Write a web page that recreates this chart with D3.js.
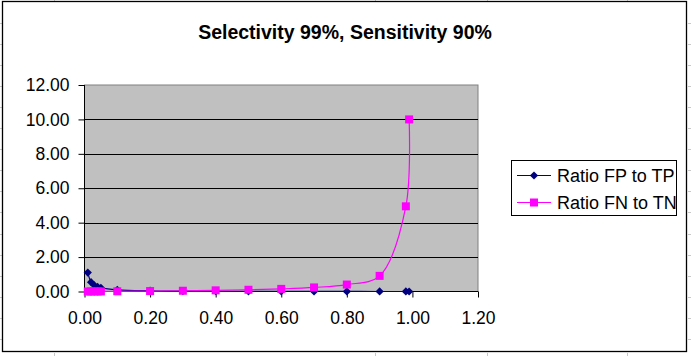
<!DOCTYPE html>
<html><head><meta charset="utf-8">
<script src="https://cdn.jsdelivr.net/npm/d3@7"></script>
<style>body{margin:0;background:#fff}svg{display:block}text{font-family:"Liberation Sans",Arial,sans-serif}</style>
</head><body>
<svg id="c" width="691" height="356"></svg>
<script>
const titleText = "Selectivity 99%, Sensitivity 90%";
const xValues = [0.01,0.02,0.03,0.04,0.05,0.1,0.2,0.3,0.4,0.5,0.6,0.7,0.8,0.9,0.98,0.99];
const fpToTp = [1.1,0.544,0.359,0.267,0.211,0.1,0.044,0.026,0.0167,0.0111,0.0074,0.0048,0.0028,0.0012,0.00025,0.00011];
const fnToTn = [0.001,0.0021,0.0031,0.0042,0.0053,0.0112,0.0253,0.0433,0.0673,0.101,0.152,0.236,0.404,0.909,4.95,10.0];
const seriesNames = ["Ratio FP to TP","Ratio FN to TN"];
const xTicks = [0,0.2,0.4,0.6,0.8,1.0,1.2];
const yTicks = [0,2,4,6,8,10,12];

const svg = d3.select("#c");
const L=84.5, R=478, T=85, B=291.5;
const x = d3.scaleLinear().domain([0,1.2]).range([L,R]);
const y = d3.scaleLinear().domain([0,12]).range([B,T]);

// spreadsheet faint gridline stubs outside chart frame
const g0 = svg.append("g").attr("stroke","#c8c8c8").attr("stroke-width",1);
for(let k=0;k<16;k++){const yy=Math.round(22.5+21.1*k)+0.5; if(yy<350){g0.append("line").attr("x1",0).attr("x2",2).attr("y1",yy).attr("y2",yy);g0.append("line").attr("x1",688).attr("x2",691).attr("y1",yy).attr("y2",yy);}}
[54,375,487,627].forEach(cx=>{g0.append("line").attr("x1",cx+.5).attr("x2",cx+.5).attr("y1",0).attr("y2",1);g0.append("line").attr("x1",cx+.5).attr("x2",cx+.5).attr("y1",353).attr("y2",356);});

// chart frame
svg.append("rect").attr("x",2.5).attr("y",1.5).attr("width",684).attr("height",350).attr("fill","#fff").attr("stroke","#000").attr("stroke-width",1.3);

// title
svg.append("text").attr("x",345).attr("y",39).attr("text-anchor","middle").attr("font-weight","bold").attr("font-size",19.5).text(titleText);

// plot area
svg.append("rect").attr("x",L).attr("y",T).attr("width",R-L).attr("height",B-T).attr("fill","#c0c0c0").attr("stroke","#808080").attr("stroke-width",1);

// gridlines
svg.append("g").selectAll("line").data(yTicks.filter(d=>d>0&&d<12)).join("line")
 .attr("x1",L).attr("x2",R).attr("y1",d=>Math.round(y(d))+0.5).attr("y2",d=>Math.round(y(d))+0.5).attr("stroke","#000");

// axes
const yAxis = d3.axisLeft(y).tickValues(yTicks).tickFormat(d3.format(".2f")).tickSize(6).tickPadding(9);
const gy = svg.append("g").attr("transform",`translate(${L},0)`).call(yAxis);
const xAxis = d3.axisBottom(x).tickValues(xTicks).tickFormat(d3.format(".2f")).tickSize(6).tickPadding(14);
const gx = svg.append("g").attr("transform",`translate(0,${B})`).call(xAxis);
[gx,gy].forEach(g=>{g.select(".domain").attr("stroke","#000");g.selectAll(".tick line").attr("stroke","#000");g.selectAll("text").attr("font-size",17.5).attr("font-family","Liberation Sans, Arial, sans-serif").attr("fill","#000");});
gy.select(".domain").attr("d",`M0,${T}V${B}`);
gx.select(".domain").attr("d",`M${L},0H${R}`);

// series
const cols = ["#000080","#ff00ff"];
const data = [fpToTp, fnToTn].map(v=>xValues.map((xv,i)=>[xv,v[i]]));
const line = d3.line().x(d=>x(d[0])).y(d=>y(d[1])).curve(d3.curveCatmullRom.alpha(0.5));
data.forEach((d,i)=>{
  svg.append("path").datum(d).attr("d",line).attr("fill","none").attr("stroke",cols[i]).attr("stroke-width",1.2);
});
function drawMarker(g, i, cx, cy){
  if(i===0){g.append("path").attr("d",d3.symbol().type(d3.symbolSquare).size(34)()).attr("transform",`translate(${cx},${cy}) rotate(45)`).attr("fill",cols[0]);}
  else {g.append("rect").attr("x",cx-4).attr("y",cy-4).attr("width",8).attr("height",8).attr("fill",cols[1]);}
}
const gm = svg.append("g");
data.forEach((d,i)=>d.forEach(p=>drawMarker(gm,i,x(p[0]),y(p[1]))));

// legend
const lg = svg.append("g");
lg.append("rect").attr("x",511.5).attr("y",160.5).attr("width",165).attr("height",55).attr("fill","#fff").attr("stroke","#000");
seriesNames.forEach((n,i)=>{
  const yy = 175.5+27*i;
  lg.append("line").attr("x1",517).attr("x2",551).attr("y1",yy).attr("y2",yy).attr("stroke",cols[i]).attr("stroke-width",1.2);
  drawMarker(lg,i,534,yy);
  lg.append("text").attr("x",557).attr("y",yy).attr("dy","0.35em").attr("font-size",18).text(n);
});
</script>
</body></html>
